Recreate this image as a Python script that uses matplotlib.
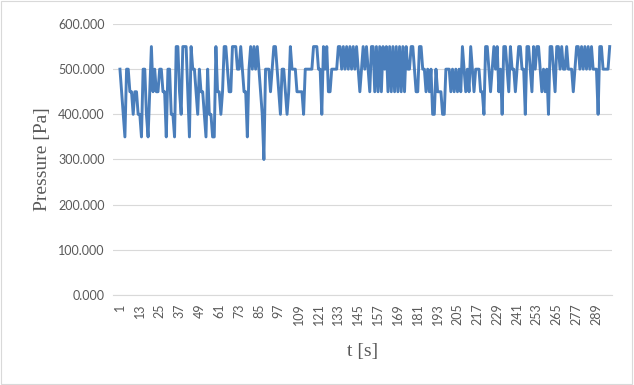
import matplotlib.pyplot as plt
from matplotlib.patches import Rectangle

# pressure readings, one per second
pressure = [
    500, 450, 400, 350, 500, 500, 450, 450, 400, 450, 450, 400, 400, 350, 500, 500, 400, 350, 450, 550, 450, 500,
    450, 450, 500, 500, 450, 450, 350, 500, 500, 400, 400, 350, 550, 550, 450, 400, 550, 550, 550, 450, 350, 550,
    500, 500, 450, 400,
    500, 450, 450, 400, 350, 500, 400, 400, 350, 350, 550, 450, 450, 400, 450, 550, 550, 500, 450, 450, 550, 550,
    550, 500,
    500, 550, 500, 450, 450, 350, 500, 550, 500, 550, 500, 550, 500, 450, 400, 300, 500, 500, 500, 450, 500, 550,
    550, 500, 450,
    400, 500, 500, 450, 400, 450, 550, 500, 500, 500, 450, 450, 450, 450, 400, 500, 500, 500, 500, 500, 550, 550,
    550, 500, 500, 400,
    550, 500, 550, 450, 450, 500, 500, 500, 500, 550, 550, 500, 550, 500, 550, 500, 550, 500, 550, 500, 550, 500,
    450, 500, 550,
    500, 550, 500, 450, 550, 550, 450, 550, 450, 550, 450, 550, 500, 550, 450, 550, 450, 550, 450, 550, 450, 550,
    450, 550, 450, 550, 500,
    500, 550, 550, 500, 450, 450, 550, 550, 500, 500, 450, 500, 450, 500, 400, 400, 500, 450, 450, 450, 400, 400,
    500, 500,
    500, 450, 500, 450, 500, 450, 500, 450, 550, 500, 450, 500, 450, 550, 500, 450, 500, 500, 500, 450, 450, 400,
    550, 550, 500, 450,
    500, 550, 500, 550, 450, 500, 400, 550, 550, 500, 450, 550, 500, 500, 450, 500, 550, 550, 500, 500, 400, 550,
    550, 500, 450,
    550, 500, 550, 550, 500, 450, 500, 450, 500, 400, 550, 550, 500, 450, 550, 550, 500, 550, 500, 500, 550, 500,
    500, 500, 450,
    500, 550, 550, 500, 550, 500, 550, 500, 550, 500, 550, 500, 500, 500, 400, 550, 550, 500, 500, 500, 500, 550,
]
t = list(range(1, len(pressure) + 1))
y_ticks = [0, 100, 200, 300, 400, 500, 600]
x_ticks = list(range(1, len(pressure) + 1, 12))

fig = plt.figure(figsize=(6.34, 3.85), dpi=100)
fig.patches.append(Rectangle((0.002, 0.003), 0.995, 0.994, transform=fig.transFigure,
                             fill=False, edgecolor='#d9d9d9', linewidth=0.8))
ax = fig.add_axes([113 / 634, 1 - 295 / 385, 499 / 634, 271 / 385])

ax.plot(t, pressure, color='#4A7EBB', linewidth=2.1, solid_joinstyle='round')

ax.set_ylim(0, 600)
ax.set_xlim(-3.2, len(pressure) + 1.4)
ax.set_yticks(y_ticks)
ax.set_yticklabels([f"{v:.3f}" for v in y_ticks], fontfamily='Lato', fontsize=9, color='#595959')
ax.set_xticks(x_ticks)
ax.set_xticklabels([str(v) for v in x_ticks], rotation=90, fontfamily='Lato', fontsize=9, color='#595959')
ax.tick_params(length=0, pad=6)
ax.grid(axis='y', color='#d9d9d9', linewidth=0.8)
ax.set_axisbelow(True)
for side in ['top', 'right', 'left']:
    ax.spines[side].set_visible(False)
ax.spines['bottom'].set_color('#d9d9d9')

ax.set_ylabel("Pressure [Pa]", fontfamily='Liberation Serif', fontsize=14, color='#595959', labelpad=5)
ax.set_xlabel("t [s]", fontfamily='Liberation Serif', fontsize=14, color='#595959', labelpad=13)

fig.savefig("out.png", dpi=100)
